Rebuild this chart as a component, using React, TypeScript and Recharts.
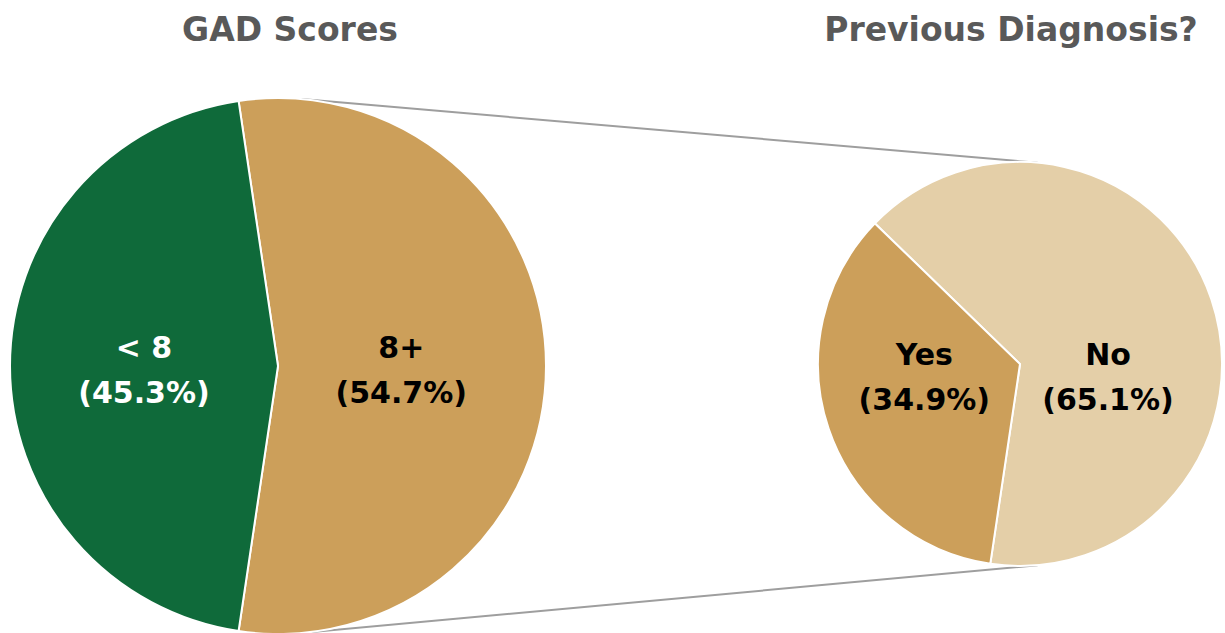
import React from 'react';
import { PieChart, Pie, Cell, Customized } from 'recharts';

// Data
const gadCategories = ['8+', '< 8'];
const gadValues = [54.7, 45.3];
const diagnosisCategories = ['No', 'Yes'];
const diagnosisValues = [65.1, 34.9];
const titles = ['GAD Scores', 'Previous Diagnosis?'];

const gadData = gadCategories.map((name, i) => ({ name, value: gadValues[i] }));
const diagnosisData = diagnosisCategories.map((name, i) => ({ name, value: diagnosisValues[i] }));

const WIDTH = 1225;
const HEIGHT = 633;
const FONT = '"DejaVu Sans", "Liberation Sans", Arial, sans-serif';
const RAD = Math.PI / 180;

// 8+ slice is centred on the right; second pie starts at the same split
const startAngle = -(gadValues[0] / 100) * 180;

const LEFT = { cx: 278, cy: 366, r: 268 };
const RIGHT = { cx: 1020, cy: 364, r: 202 };

const gadColors = ['#CC9F5A', '#0F6A3A'];
const gadTextColors = ['#000000', '#FFFFFF'];
const diagnosisColors = ['#E4CFA8', '#CC9F5A'];
const diagnosisTextColors = ['#000000', '#000000'];

const pct = (v: number) => `(${v.toFixed(1)}%)`;

// label drawn at a fraction of the radius along the slice mid angle
const makeLabel = (textColors: string[], dy: number) =>
  // eslint-disable-next-line @typescript-eslint/no-explicit-any
  (props: any) => {
    const { cx, cy, midAngle, outerRadius, index, name, value } = props;
    const cos = Math.cos(-midAngle * RAD);
    const k = cos < 0 ? 0.5 : 0.46;
    const x = cx + outerRadius * k * cos;
    const y = cy + dy;
    return (
      <text
        x={x}
        y={y}
        textAnchor="middle"
        fill={textColors[index]}
        fontFamily={FONT}
        fontWeight="bold"
        fontSize={30}
      >
        <tspan x={x} y={y}>{name}</tspan>
        <tspan x={x} y={y + 45}>{pct(value)}</tspan>
      </text>
    );
  };

const pointOn = (p: { cx: number; cy: number; r: number }, angle: number) => ({
  x: p.cx + p.r * Math.cos(angle * RAD),
  y: p.cy - p.r * Math.sin(angle * RAD),
});

const Decorations = () => {
  const a = pointOn(LEFT, 85);
  const b = pointOn(RIGHT, 85);
  const c = pointOn(LEFT, -85);
  const d = pointOn(RIGHT, -85);
  return (
    <g>
      <line x1={a.x} y1={a.y} x2={b.x} y2={b.y} stroke="#9E9E9E" strokeWidth={2} />
      <line x1={c.x} y1={c.y} x2={d.x} y2={d.y} stroke="#9E9E9E" strokeWidth={2} />
      <text x={290} y={41} textAnchor="middle" fill="#595959" fontFamily={FONT} fontWeight="bold" fontSize={33}>
        {titles[0]}
      </text>
      <text x={1011} y={41} textAnchor="middle" fill="#595959" fontFamily={FONT} fontWeight="bold" fontSize={33}>
        {titles[1]}
      </text>
    </g>
  );
};

export default function App() {
  return (
    <div style={{ position: 'absolute', left: 0, top: 0, width: WIDTH, height: HEIGHT, background: '#fff' }}>
      <PieChart width={WIDTH} height={HEIGHT} margin={{ top: 0, right: 0, bottom: 0, left: 0 }}>
        <Customized component={Decorations} />
        <Pie
          data={gadData}
          dataKey="value"
          nameKey="name"
          cx={LEFT.cx}
          cy={LEFT.cy}
          outerRadius={LEFT.r}
          startAngle={startAngle}
          endAngle={startAngle + 360}
          stroke="#FFFFFF"
          strokeWidth={2}
          labelLine={false}
          label={makeLabel(gadTextColors, -8)}
          isAnimationActive={false}
        >
          {gadData.map((d, i) => (
            <Cell key={d.name} fill={gadColors[i]} />
          ))}
        </Pie>
        <Pie
          data={diagnosisData}
          dataKey="value"
          nameKey="name"
          cx={RIGHT.cx}
          cy={RIGHT.cy}
          outerRadius={RIGHT.r}
          startAngle={startAngle}
          endAngle={startAngle + 360}
          stroke="#FFFFFF"
          strokeWidth={2}
          labelLine={false}
          label={makeLabel(diagnosisTextColors, 1)}
          isAnimationActive={false}
        >
          {diagnosisData.map((d, i) => (
            <Cell key={d.name} fill={diagnosisColors[i]} />
          ))}
        </Pie>
      </PieChart>
    </div>
  );
}
